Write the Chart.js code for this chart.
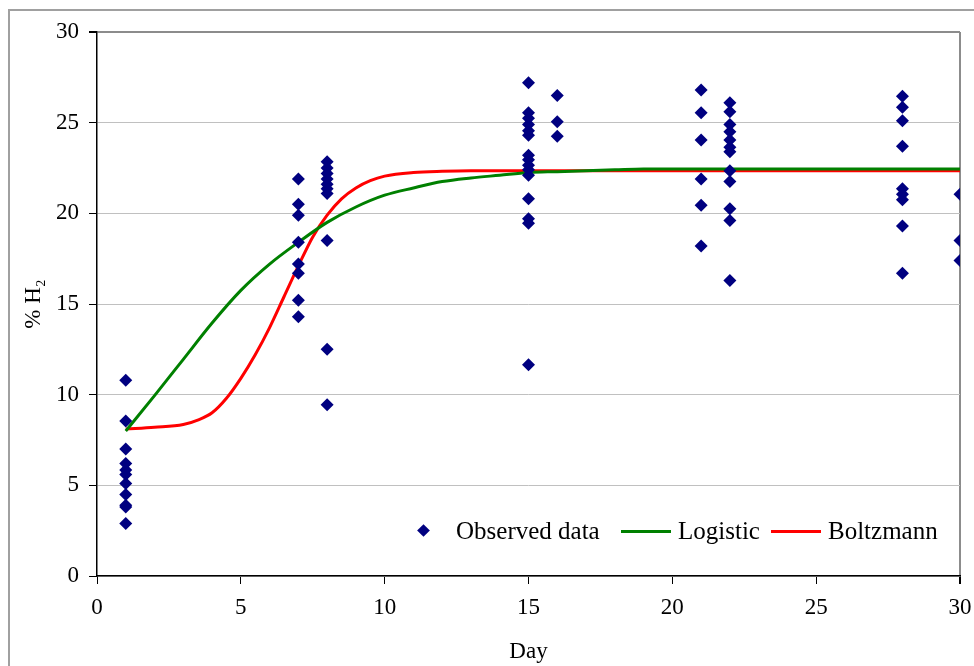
<!DOCTYPE html>
<html>
<head>
<meta charset="utf-8">
<script src="https://cdn.jsdelivr.net/npm/chart.js@4/dist/chart.umd.min.js"></script>
<style>
  html, body { margin: 0; padding: 0; background: #fff; }
  #wrap { position: relative; width: 974px; height: 666px; overflow: hidden; }
  #frame { position: absolute; left: 8px; top: 9px; width: 1000px; height: 700px;
           border-left: 2px solid #a0a0a0; border-top: 2px solid #a0a0a0; }
  canvas { position: absolute; left: 0; top: 0; }
  .lg { position: absolute; font-family: "Liberation Serif", "Times New Roman", serif;
        font-size: 25px; color: #000; line-height: 25px; white-space: nowrap; }
  .dia { position: absolute; width: 9px; height: 9px; background: #000080; transform: rotate(45deg); }
  .ln { position: absolute; height: 3px; }
</style>
</head>
<body>
<div id="wrap">
  <div id="frame"></div>
  <canvas id="c" width="974" height="666"></canvas>
  <div class="dia" style="left:419px; top:526px;"></div>
  <div class="lg" style="left:456px; top:518px;">Observed data</div>
  <div class="ln" style="left:621px; top:530px; width:50px; background:#008000;"></div>
  <div class="lg" style="left:678px; top:518px;">Logistic</div>
  <div class="ln" style="left:771px; top:530px; width:50px; background:#ff0000;"></div>
  <div class="lg" style="left:828px; top:518px;">Boltzmann</div>
</div>
<script>
// Observed data: sampling days and the %H2 values read at each day
const obsDays = [1, 7, 8, 15, 16, 21, 22, 28, 30];
const obsValues = [
  [10.8, 8.55, 7.0, 6.2, 5.85, 5.6, 5.1, 4.5, 3.9, 3.8, 2.9],
  [21.9, 20.5, 19.9, 18.4, 17.2, 16.7, 15.2, 14.3],
  [22.85, 22.5, 22.2, 21.9, 21.6, 21.35, 21.1, 18.5, 12.5, 9.45],
  [27.2, 25.55, 25.25, 24.9, 24.55, 24.3, 23.2, 22.95, 22.65, 22.4, 22.1, 20.8, 19.7, 19.45, 11.65],
  [26.5, 25.05, 24.25],
  [26.8, 25.55, 24.05, 21.9, 20.45, 18.2],
  [26.1, 25.6, 24.9, 24.5, 24.05, 23.65, 23.4, 22.35, 21.75, 20.25, 19.6, 16.3],
  [26.45, 25.85, 25.1, 23.7, 21.35, 21.05, 20.75, 19.3, 16.7],
  [21.05, 18.5, 17.4]
];

// Fitted curves
const logisticDays   = [1, 2, 3, 4, 5, 6, 7, 8, 9, 10, 11, 12, 13, 14, 15, 16, 17, 18, 19, 20, 22, 24, 26, 28, 30];
const logisticValues = [8.0, 9.95, 11.95, 13.95, 15.75, 17.2, 18.4, 19.5, 20.35, 21.0, 21.4, 21.75, 21.95, 22.1, 22.25, 22.3, 22.35, 22.4, 22.45, 22.45, 22.45, 22.45, 22.45, 22.45, 22.45];

const boltzmannDays   = [1, 2, 3, 3.5, 4, 4.5, 5, 5.5, 6, 6.5, 7, 7.5, 8, 8.5, 9, 9.5, 10, 11, 12, 13, 15, 18, 20, 25, 30];
const boltzmannValues = [8.1, 8.2, 8.35, 8.6, 9.0, 9.8, 10.9, 12.2, 13.7, 15.4, 17.1, 18.7, 19.9, 20.8, 21.4, 21.8, 22.05, 22.25, 22.32, 22.35, 22.35, 22.35, 22.35, 22.35, 22.35];

const xTicks = [0, 5, 10, 15, 20, 25, 30];
const yTicks = [0, 5, 10, 15, 20, 25, 30];

const obsPoints = [];
obsDays.forEach((d, i) => obsValues[i].forEach(v => obsPoints.push({x: d, y: v})));
const toPts = (xs, ys) => xs.map((x, i) => ({x: x, y: ys[i]}));

const FONT = { family: '"Liberation Serif", "Times New Roman", serif', size: 23 };

new Chart(document.getElementById('c'), {
  type: 'scatter',
  data: {
    datasets: [
      { label: 'Observed data', data: obsPoints, pointStyle: 'rectRot', pointRadius: 6.5,
        backgroundColor: '#000080', borderColor: '#000080', borderWidth: 0, showLine: false },
      { label: 'Logistic', data: toPts(logisticDays, logisticValues), showLine: true,
        borderColor: '#008000', borderWidth: 3, pointRadius: 0, cubicInterpolationMode: 'monotone', fill: false },
      { label: 'Boltzmann', data: toPts(boltzmannDays, boltzmannValues), showLine: true,
        borderColor: '#ff0000', borderWidth: 3, pointRadius: 0, cubicInterpolationMode: 'monotone', fill: false }
    ]
  },
  options: {
    responsive: false,
    animation: false,
    events: [],
    layout: { padding: { top: 32, right: 14, left: 10, bottom: 0 } },
    plugins: { legend: { display: false }, tooltip: { enabled: false } },
    scales: {
      x: {
        type: 'linear', min: 0, max: 30,
        afterBuildTicks: s => { s.ticks = xTicks.map(v => ({value: v})); },
        afterFit: s => { s.height = 90; s.paddingRight = 0; s.paddingLeft = 0; },
        ticks: { color: '#000', font: FONT, padding: 10, maxRotation: 0 },
        grid: {
          drawOnChartArea: true, tickLength: 8, tickColor: '#000',
          color: c => (c.tick && c.tick.value === 30) ? '#8c8c8c' : 'rgba(0,0,0,0)',
          lineWidth: c => (c.tick && c.tick.value === 30) ? 2 : 1
        },
        border: { color: '#000', width: 1.5 },
        title: { display: true, text: 'Day', color: '#000', font: FONT, padding: { top: 0, bottom: 0 } }
      },
      y: {
        min: 0, max: 30,
        afterBuildTicks: s => { s.ticks = yTicks.map(v => ({value: v})); },
        afterFit: s => { s.width = 87; },
        ticks: { color: '#000', font: FONT, padding: 10 },
        grid: {
          tickLength: 8, tickColor: '#000',
          color: c => (c.tick && c.tick.value === 30) ? '#8c8c8c' : '#c0c0c0',
          lineWidth: c => (c.tick && c.tick.value === 30) ? 2 : 1
        },
        border: { color: '#000', width: 1.5 },
        title: { display: true, text: '% H₂', color: '#000', font: FONT, padding: { top: 10, bottom: 0 } }
      }
    }
  }
});
</script>
</body>
</html>
